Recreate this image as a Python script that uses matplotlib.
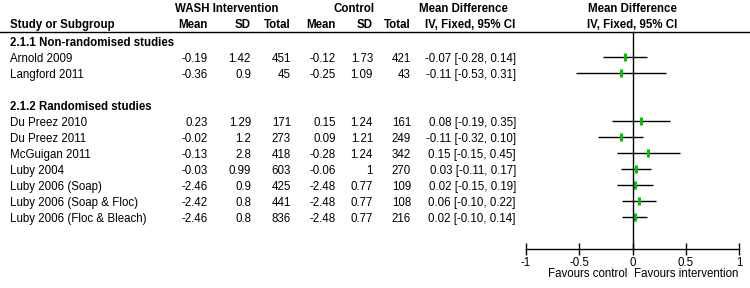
import numpy as np
import matplotlib
matplotlib.use('Agg')
import matplotlib.pyplot as plt
import matplotlib.transforms as mtransforms
from matplotlib.lines import Line2D

plt.rcParams['font.family'] = ['Liberation Sans', 'DejaVu Sans']
plt.rcParams['font.size'] = 8.3

# data
groups = ['2.1.1 Non-randomised studies', '2.1.2 Randomised studies']
studies = ['Arnold 2009', 'Langford 2011',
           'Du Preez 2010', 'Du Preez 2011', 'McGuigan 2011', 'Luby 2004',
           'Luby 2006 (Soap)', 'Luby 2006 (Soap & Floc)', 'Luby 2006 (Floc & Bleach)']
study_group = [0, 0, 1, 1, 1, 1, 1, 1, 1]
int_mean = ['-0.19', '-0.36', '0.23', '-0.02', '-0.13', '-0.03', '-2.46', '-2.42', '-2.46']
int_sd = ['1.42', '0.9', '1.29', '1.2', '2.8', '0.99', '0.9', '0.8', '0.8']
int_total = [451, 45, 171, 273, 418, 603, 425, 441, 836]
ctl_mean = ['-0.12', '-0.25', '0.15', '0.09', '-0.28', '-0.06', '-2.48', '-2.48', '-2.48']
ctl_sd = ['1.73', '1.09', '1.24', '1.21', '1.24', '1', '0.77', '0.77', '0.77']
ctl_total = [421, 43, 161, 249, 342, 270, 109, 108, 216]
md = [-0.07, -0.11, 0.08, -0.11, 0.15, 0.03, 0.02, 0.06, 0.02]
ci_lo = [-0.28, -0.53, -0.19, -0.32, -0.15, -0.11, -0.15, -0.10, -0.10]
ci_hi = [0.14, 0.31, 0.35, 0.10, 0.45, 0.17, 0.19, 0.22, 0.14]
xticks = [-1, -0.5, 0, 0.5, 1]
xtick_labels = ['-1', '-0.5', '0', '0.5', '1']

# row layout: group heading, its studies, blank row between groups
rows_heading = []
rows_study = []
r = 0
for g in range(len(groups)):
    if g > 0:
        r += 1
    rows_heading.append(r)
    r += 1
    for i, sg in enumerate(study_group):
        if sg == g:
            rows_study.append(r)
            r += 1
last_row = r - 1

W, H = 750, 288
fig = plt.figure(figsize=(W / 100, H / 100), dpi=100)

# forest axes: x in MD units, y in row units; spans full figure height
x0_px, x1_px = 526, 739
row0_px, row_step = 41, 16
ax = fig.add_axes([x0_px / W, 0, (x1_px - x0_px) / W, 1])
ax.set_xlim(-1, 1)
ax.set_ylim((H - row0_px) / row_step, -row0_px / row_step)
ax.patch.set_visible(False)

def px2row(y):
    return (y - row0_px) / row_step

line_row = px2row(32)
axis_row = px2row(248.5)

tr = mtransforms.blended_transform_factory(
    mtransforms.Affine2D().scale(1 / W, 1) + fig.transFigure, ax.transData)

# CI lines and markers
ax.hlines(rows_study, ci_lo, ci_hi, color='black', lw=1.0)
ax.plot(md, rows_study, linestyle='none', marker='|', color='#00c000',
        markersize=6, markeredgewidth=2.2)
ax.plot([0, 0], [line_row, axis_row], color='black', lw=1.0)

# x axis
for s in ['top', 'right', 'left']:
    ax.spines[s].set_visible(False)
ax.spines['bottom'].set_position(('data', axis_row))
ax.spines['bottom'].set_bounds(-1, 1)
ax.spines['bottom'].set_linewidth(1.0)
ax.set_yticks([])
ax.set_xticks(xticks)
ax.set_xticklabels(xtick_labels)
ax.tick_params(axis='x', direction='inout', length=9, width=1.0, pad=1.5,
               labelsize=8.3)

# header line
fig.add_artist(Line2D([0, 1], [1 - 32 / H, 1 - 32 / H], color='black',
                      lw=1.0, transform=fig.transFigure))

# headers
hr1, hr2 = px2row(8.5), px2row(25)
bold = dict(fontweight='bold', va='center', transform=tr)
ax.text(227, hr1, 'WASH Intervention', ha='center', **bold)
ax.text(354, hr1, 'Control', ha='center', **bold)
ax.text(463, hr1, 'Mean Difference', ha='center', **bold)
ax.text(632, hr1, 'Mean Difference', ha='center', **bold)
ax.text(10, hr2, 'Study or Subgroup', ha='left', **bold)
ax.text(208, hr2, 'Mean', ha='right', **bold)
ax.text(251, hr2, 'SD', ha='right', **bold)
ax.text(291, hr2, 'Total', ha='right', **bold)
ax.text(336, hr2, 'Mean', ha='right', **bold)
ax.text(373, hr2, 'SD', ha='right', **bold)
ax.text(411, hr2, 'Total', ha='right', **bold)
ax.text(470, hr2, 'IV, Fixed, 95% CI', ha='center', **bold)
ax.text(632, hr2, 'IV, Fixed, 95% CI', ha='center', **bold)

for g, rh in zip(groups, rows_heading):
    ax.text(10, rh + 0.1, g, ha='left', **bold)

norm = dict(va='center', transform=tr)
for i, rs in enumerate(rows_study):
    y = rs + 0.1
    ax.text(10, y, studies[i], ha='left', **norm)
    ax.text(208, y, int_mean[i], ha='right', **norm)
    ax.text(251, y, int_sd[i], ha='right', **norm)
    ax.text(291, y, str(int_total[i]), ha='right', **norm)
    ax.text(336, y, ctl_mean[i], ha='right', **norm)
    ax.text(373, y, ctl_sd[i], ha='right', **norm)
    ax.text(411, y, str(ctl_total[i]), ha='right', **norm)
    ax.text(516, y, '%.2f [%.2f, %.2f]' % (md[i], ci_lo[i], ci_hi[i]),
            ha='right', **norm)

fav = px2row(274)
ax.text(627, fav, 'Favours control', ha='right', **norm)
ax.text(634, fav, 'Favours intervention', ha='left', **norm)

fig.savefig('out.png', dpi=100)
